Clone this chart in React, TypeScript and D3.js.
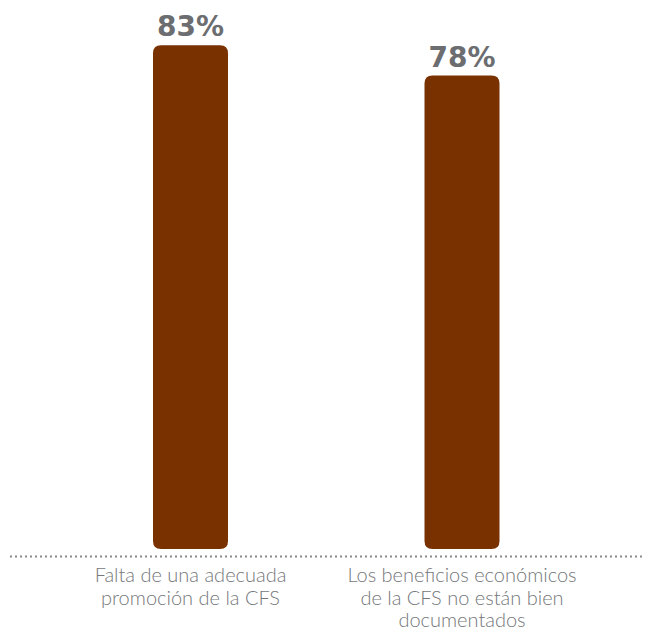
import React from "react";
import * as d3 from "d3";

const categories = ["Falta de una adecuada|promoción de la CFS", "Los beneficios económicos|de la CFS no están bien|documentados"];
const values = [83, 78];
const valueLabels = ["83%", "78%"];

const W = 648, H = 630;

export default function App() {
  const x = d3.scalePoint<number>().domain(d3.range(categories.length)).range([190.5, 462]);
  const baseline = 549;
  const y = d3.scaleLinear().domain([0, 100]).range([baseline, baseline - 607]);
  const bw = 75;
  return (
    <svg width={W} height={H} style={{ position: "absolute", left: 0, top: 0 }}>
      {values.map((v, i) => {
        const cx = x(i)!;
        const top = y(v);
        const r = 8;
        const path = `M${cx - bw / 2},${baseline - r} L${cx - bw / 2},${top + r} Q${cx - bw / 2},${top} ${cx - bw / 2 + r},${top} L${cx + bw / 2 - r},${top} Q${cx + bw / 2},${top} ${cx + bw / 2},${top + r} L${cx + bw / 2},${baseline - r} Q${cx + bw / 2},${baseline} ${cx + bw / 2 - r},${baseline} L${cx - bw / 2 + r},${baseline} Q${cx - bw / 2},${baseline} ${cx - bw / 2},${baseline - r} Z`;
        return (
          <g key={i}>
            <path d={path} fill="#7a3100" />
            <text x={cx} y={top - 9} textAnchor="middle" fontFamily="'DejaVu Sans', sans-serif" fontWeight={700} fontSize={28} fill="#6b6d70">{valueLabels[i]}</text>
            {categories[i].split("|").map((line, j) => (
              <text key={j} x={cx} y={582 + j * 22.5} textAnchor="middle" fontFamily="Lato, sans-serif" fontWeight={300} fontSize={20} fill="#75777a">{line}</text>
            ))}
          </g>
        );
      })}
      <line x1={10} x2={644} y1={556.5} y2={556.5} stroke="#8a8a8a" strokeWidth={2} strokeDasharray="2 3" />
    </svg>
  );
}
